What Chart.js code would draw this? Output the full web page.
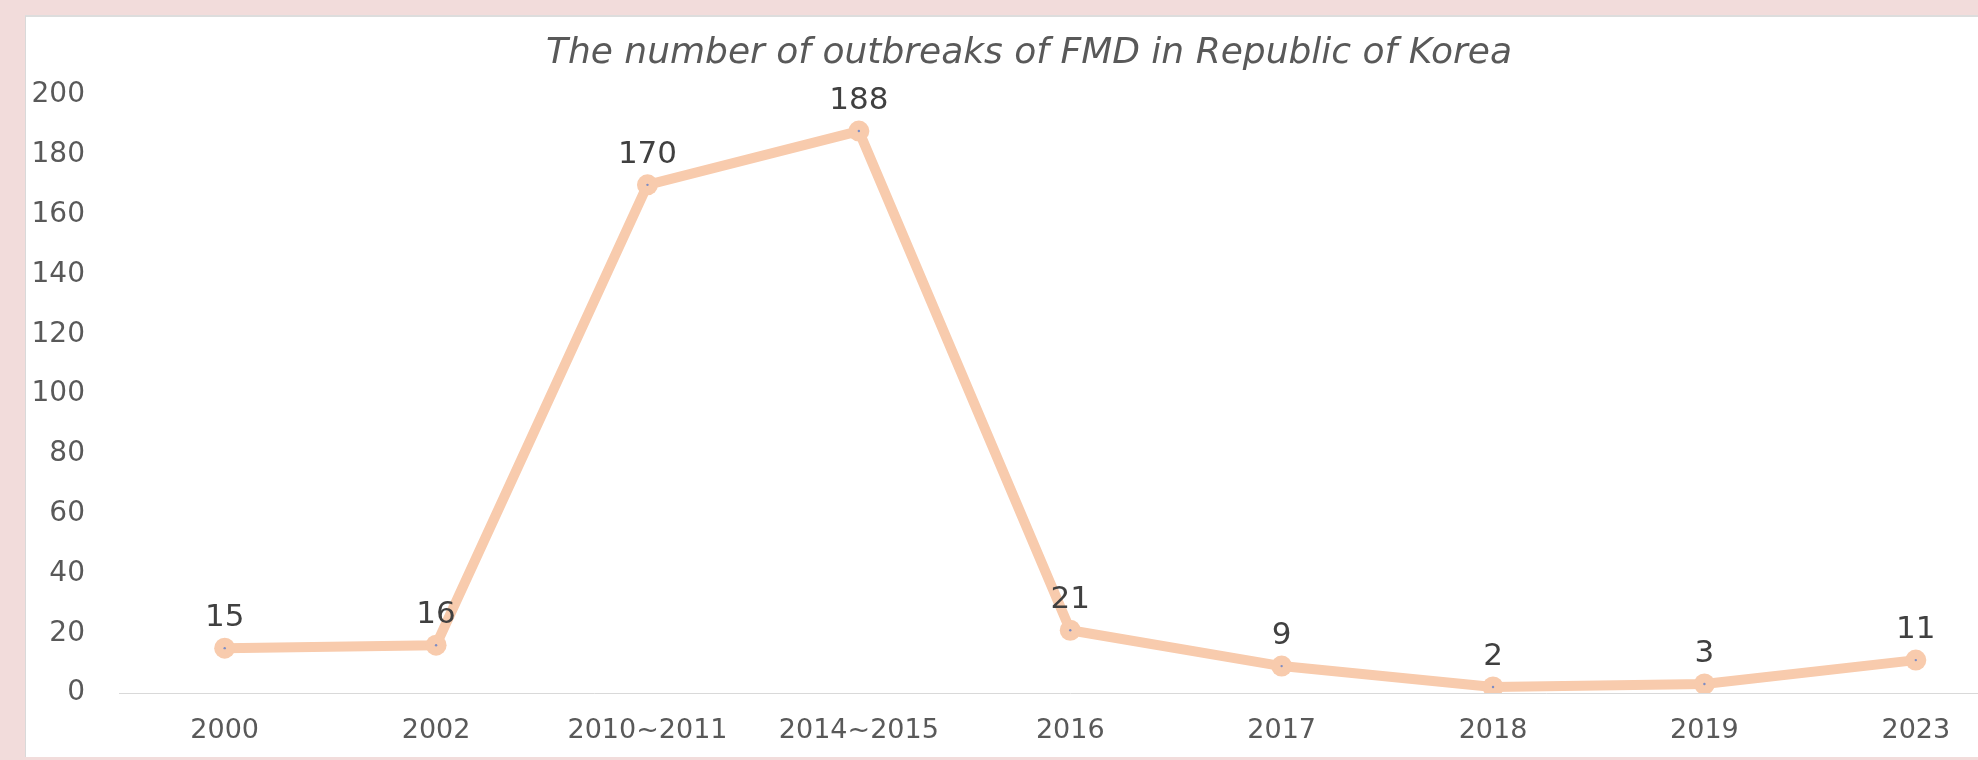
<!DOCTYPE html>
<html>
<head>
<meta charset="utf-8">
<script src="https://cdn.jsdelivr.net/npm/chart.js@4.4.0/dist/chart.umd.min.js"></script>
<style>
  html, body { margin: 0; padding: 0; width: 1978px; height: 760px; overflow: hidden; background: #f2dcdb; }
  #panel { position: absolute; left: 25px; top: 15px; width: 2040px; height: 740px; background: #fff;
           border-left: 1px solid #d9d9d9; border-top: 2px solid #dddddd; }
  #myChart { position: absolute; left: 0; top: 0; }
</style>
</head>
<body>
<div id="panel"><canvas id="myChart" width="2006" height="740"></canvas></div>
<script>
// data
const categories = ['2000', '2002', '2010~2011', '2014~2015', '2016', '2017', '2018', '2019', '2023'];
const outbreaks = [15, 16, 170, 188, 21, 9, 2, 3, 11];
const yMin = 0;
const yMax = 200;
const yStep = 20;

const chartTitle = 'The number of outbreaks of FMD in Republic of Korea';
const lineColor = '#f8cbad';

// value labels above each point, placed from the point positions the scales give
const valueLabels = {
    id: 'valueLabels',
    afterDatasetsDraw(chart) {
        const ctx = chart.ctx;
        const meta = chart.getDatasetMeta(0);
        ctx.save();
        ctx.font = '31px "DejaVu Sans"';
        ctx.fillStyle = '#404040';
        ctx.textAlign = 'center';
        ctx.textBaseline = 'middle';
        meta.data.forEach((pt, i) => {
            ctx.fillText(String(outbreaks[i]), pt.x, pt.y - 30);
        });
        ctx.restore();
    }
};

const ctx = document.getElementById('myChart').getContext('2d');

new Chart(ctx, {
    type: 'line',
    data: {
        labels: categories,
        datasets: [{
            label: 'Outbreaks',
            data: outbreaks,
            order: 1,
            borderColor: lineColor,
            backgroundColor: lineColor,
            borderWidth: 10,
            borderJoinStyle: 'round',
            borderCapStyle: 'round',
            pointRadius: 10.5,
            pointBorderWidth: 0,
            pointBackgroundColor: lineColor,
            tension: 0
        }, {
            // tiny marker centres
            label: 'centres',
            data: outbreaks,
            order: 0,
            showLine: false,
            pointRadius: 1.2,
            pointBorderWidth: 0,
            pointBackgroundColor: '#7d8cc4'
        }]
    },
    options: {
        responsive: false,
        animation: false,
        layout: { padding: 0 },
        plugins: {
            legend: { display: false },
            tooltip: { enabled: false },
            title: {
                display: true,
                text: chartTitle,
                color: '#595959',
                font: { family: '"DejaVu Sans"', size: 36, style: 'italic', weight: 'normal', lineHeight: 1.2 },
                padding: { top: 15, bottom: 20 }
            }
        },
        scales: {
            x: {
                offset: true,
                grid: { display: false, drawTicks: false },
                border: { display: true, color: '#d9d9d9', width: 1 },
                ticks: {
                    color: '#595959',
                    font: { family: '"DejaVu Sans"', size: 27 },
                    padding: 22,
                    maxRotation: 0,
                    autoSkip: false
                },
                afterFit(scale) { scale.height = 64; }
            },
            y: {
                min: yMin,
                max: yMax,
                grid: { display: false, drawTicks: false },
                border: { display: false },
                ticks: {
                    stepSize: yStep,
                    color: '#595959',
                    font: { family: '"DejaVu Sans"', size: 28 },
                    padding: 34
                },
                afterFit(scale) { scale.width = 93; }
            }
        }
    },
    plugins: [valueLabels]
});
</script>
</body>
</html>
